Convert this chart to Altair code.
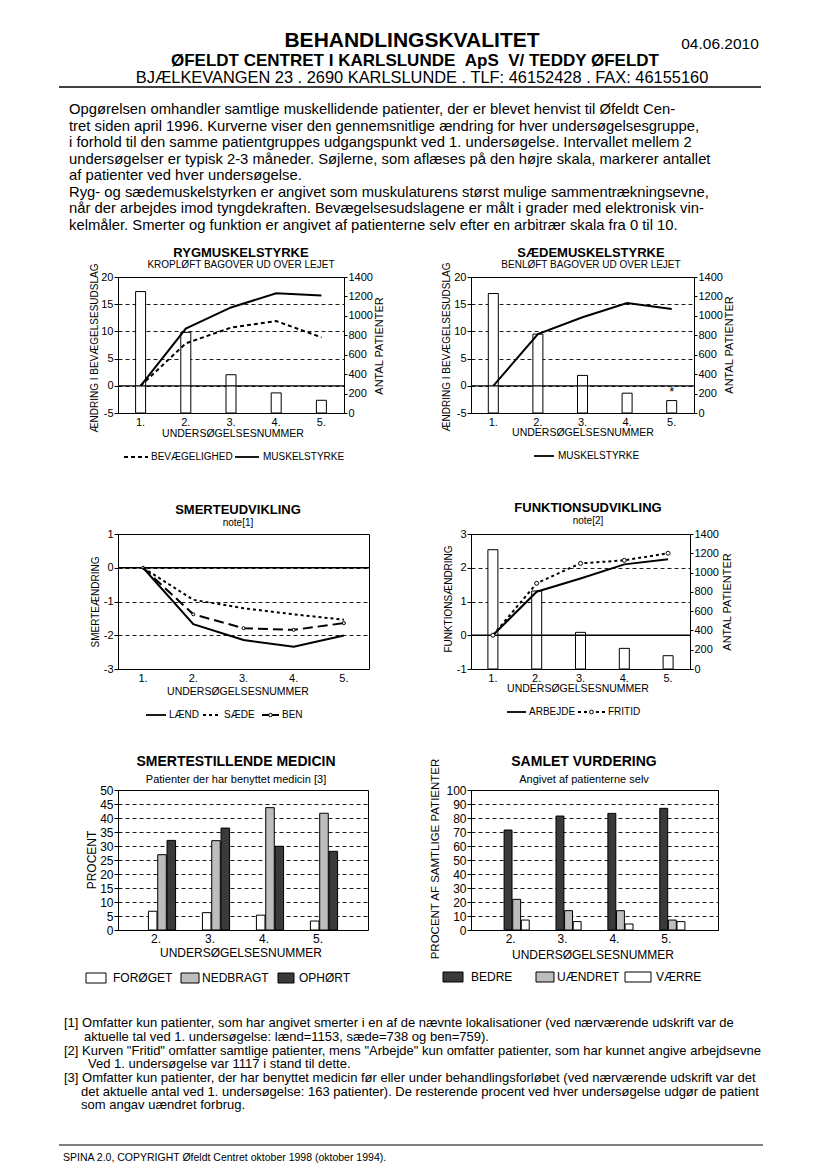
import altair as alt
import pandas as pd

FONT = "Liberation Sans, Arial, Helvetica, sans-serif"

# ---------------- data ----------------
exam = ["1.", "2.", "3.", "4.", "5."]
ryg_patients = [1250, 830, 394, 207, 131]
ryg_bevaegelighed = [0.0, 7.8, 10.7, 11.9, 8.9]
ryg_muskelstyrke = [0.0, 10.5, 14.4, 17.0, 16.6]

saede_patients = [1230, 812, 387, 204, 128]
saede_muskelstyrke = [0.0, 9.5, 12.6, 15.2, 14.1]

smerte_laend = [0.0, -1.67, -2.14, -2.34, -2.01]
smerte_saede = [0.0, -0.95, -1.20, -1.38, -1.54]
smerte_ben = [0.0, -1.38, -1.79, -1.84, -1.64]

funk_patients = [1237, 809, 380, 214, 138]
funk_arbejde = [0.0, 1.29, 1.68, 2.10, 2.25]
funk_fritid = [0.0, 1.54, 2.13, 2.22, 2.43]

follow_up = ["2.", "3.", "4.", "5."]
med_series = ["FORØGET", "NEDBRAGT", "OPHØRT"]
med_foroeget = [6.7, 6.2, 5.3, 3.2]
med_nedbragt = [26.9, 31.9, 43.7, 41.7]
med_ophoert = [32.0, 36.4, 29.9, 28.1]

vurd_series = ["BEDRE", "UÆNDRET", "VÆRRE"]
vurd_bedre = [71.4, 81.4, 83.3, 86.9]
vurd_uaendret = [21.9, 13.8, 13.8, 7.1]
vurd_vaerre = [7.1, 6.0, 4.3, 6.0]

header_title = "BEHANDLINGSKVALITET"
header_date = "04.06.2010"
header_line2 = "ØFELDT CENTRET I KARLSLUNDE\u00a0\u00a0ApS\u00a0\u00a0V/ TEDDY ØFELDT"
header_line3 = "BJÆLKEVANGEN 23 . 2690 KARLSLUNDE . TLF: 46152428 . FAX: 46155160"
paragraph = [
    "Opgørelsen omhandler samtlige muskellidende patienter, der er blevet henvist til Øfeldt Cen-",
    "tret siden april 1996. Kurverne viser den gennemsnitlige ændring for hver undersøgelsesgruppe,",
    "i forhold til den samme patientgruppes udgangspunkt ved 1. undersøgelse. Intervallet mellem 2",
    "undersøgelser er typisk 2-3 måneder. Søjlerne, som aflæses på den højre skala, markerer antallet",
    "af patienter ved hver undersøgelse.",
    "Ryg- og sædemuskelstyrken er angivet som muskulaturens størst mulige sammentrækningsevne,",
    "når der arbejdes imod tyngdekraften. Bevægelsesudslagene er målt i grader med elektronisk vin-",
    "kelmåler. Smerter og funktion er angivet af patienterne selv efter en arbitrær skala fra 0 til 10.",
]
footnotes = [
    "[1] Omfatter kun patienter, som har angivet smerter i en af de nævnte lokalisationer (ved nærværende udskrift var de",
    "aktuelle tal ved 1. undersøgelse: lænd=1153, sæde=738 og ben=759).",
    "[2] Kurven \"Fritid\" omfatter samtlige patienter, mens \"Arbejde\" kun omfatter patienter, som har kunnet angive arbejdsevne",
    "Ved 1. undersøgelse var 1117 i stand til dette.",
    "[3] Omfatter kun patienter, der har benyttet medicin før eller under behandlingsforløbet (ved nærværende udskrift var det",
    "det aktuelle antal ved 1. undersøgelse: 163 patienter). De resterende procent ved hver undersøgelse udgør de patient",
    "som angav uændret forbrug.",
]
footer = "SPINA 2.0, COPYRIGHT Øfeldt Centret oktober 1998 (oktober 1994)."

# ---------------- helpers ----------------
ONE = pd.DataFrame({"k": [0]})


def text(t, x, y, size=11, weight="normal", align="center", angle=None):
    kw = dict(text=t, font=FONT, fontSize=size, fontWeight=weight, align=align,
              baseline="middle", color="black")
    if angle is not None:
        kw["angle"] = angle
    return alt.Chart(ONE).mark_text(**kw).encode(x=alt.value(x), y=alt.value(y))


def rule(x1, x2, y, width=1.8, dash=None):
    kw = dict(color="black", strokeWidth=width)
    if dash:
        kw["strokeDash"] = dash
    return alt.Chart(ONE).mark_rule(**kw).encode(x=alt.value(x1), x2=alt.value(x2), y=alt.value(y))


def box(x1, x2, y1, y2, fill):
    return alt.Chart(ONE).mark_rect(fill=fill, stroke="black", strokeWidth=1).encode(
        x=alt.value(x1), x2=alt.value(x2), y=alt.value(y1), y2=alt.value(y2))


def dot(x, y, size=16):
    return alt.Chart(ONE).mark_point(shape="circle", filled=True, fill="white", stroke="black",
                                     strokeWidth=1, size=size, opacity=1).encode(
        x=alt.value(x), y=alt.value(y))


class Panel:
    """my = plot origin in page px; ref = plot box in reference page px"""

    def __init__(self, mx, my, w, h, rx, ry, rw):
        self.mx, self.my, self.w, self.h = mx, my, w, h
        self.rx, self.ry, self.rw = rx, ry, rw

    def X(self, px):
        return px - self.mx

    def Y(self, py):
        return py - self.ry

    def L(self, px):
        return px - self.rx

    def R(self, px):
        return self.w + (px - (self.rx + self.rw))

    def AX(self, px):
        return px - self.mx

    def AY(self, py):
        return py - self.my


def enc_x(field, domain, pi=0.0, po=0.0, label_offset=0, size=11):
    return alt.X(f"{field}:N", sort=domain,
                 scale=alt.Scale(type="band", domain=domain, paddingInner=pi, paddingOuter=po),
                 axis=alt.Axis(title=None, ticks=False, domain=False, labelAngle=0, labelPadding=3,
                               labelFontSize=size, labelOffset=label_offset, grid=False))


def enc_left(field, domain, values, size=11):
    return alt.Y(f"{field}:Q", scale=alt.Scale(domain=domain, nice=False, zero=False),
                 axis=alt.Axis(title=None, orient="left", values=values, grid=True, gridDash=[4, 3],
                               gridColor="black", gridWidth=0.9, gridOpacity=1, tickSize=4,
                               tickWidth=1, labelPadding=1, domain=False, labelFontSize=size,
                               labelExpr="'' + datum.value"))


def enc_right(field):
    return alt.Y(f"{field}:Q", scale=alt.Scale(domain=[0, 1400], nice=False),
                 axis=alt.Axis(title=None, orient="right", values=list(range(0, 1401, 200)),
                               grid=False, tickSize=3, tickWidth=1, labelPadding=1, domain=False,
                               labelFontSize=11, format="d"))


def line(df, x, y, dash=None, width=2.0):
    kw = dict(color="black", strokeWidth=width)
    if dash:
        kw["strokeDash"] = dash
    return alt.Chart(df).mark_line(**kw).encode(x=x, y=y)


def zero(y):
    return alt.Chart(pd.DataFrame({"v": [0]})).mark_rule(color="black", strokeWidth=1.3).encode(y=y)


# ---------------- panel 1: RYGMUSKELSTYRKE (with page header) ----------------
p = Panel(117, 276, 226, 136, 122, 278, 221)
X5 = enc_x("exam", exam)
Yl = enc_left("v", [-5, 20], [-5, 0, 5, 10, 15, 20])
Yr = enc_right("n")
bars = alt.Chart(pd.DataFrame({"exam": exam, "n": ryg_patients})).mark_bar(
    width=10, fill="white", stroke="black", strokeWidth=1).encode(x=X5, y=Yr)
lines = alt.layer(
    zero(Yl),
    line(pd.DataFrame({"exam": exam, "v": ryg_bevaegelighed}), X5, Yl, dash=[4, 3]),
    line(pd.DataFrame({"exam": exam, "v": ryg_muskelstyrke}), X5, Yl),
)
deco = [
    text("RYGMUSKELSTYRKE", p.X(240), p.Y(254), 13, "bold"),
    text("KROPLØFT BAGOVER UD OVER LEJET", p.X(240), p.Y(266), 10),
    text("ÆNDRING I BEVÆGELSESUDSLAG", p.L(99), p.Y(349), 10, angle=270),
    text("ANTAL PATIENTER", p.R(379), p.Y(347), 11, angle=270),
    text("UNDERSØGELSESNUMMER", p.X(232), p.Y(435), 10.5),
    rule(p.X(123), p.X(147), p.Y(458), dash=[4, 3]),
    text("BEVÆGELIGHED", p.X(150), p.Y(458), 10, align="left"),
    rule(p.X(234), p.X(258), p.Y(458)),
    text("MUSKELSTYRKE", p.X(262), p.Y(458), 10, align="left"),
    # page header
    alt.Chart(ONE).mark_rect(fill="white").encode(
        x=alt.value(p.AX(8)), x2=alt.value(p.AX(10)), y=alt.value(p.AY(8)), y2=alt.value(p.AY(10))),
    text(header_title, p.AX(411), p.AY(40), 21, "bold"),
    text(header_date, p.AX(719), p.AY(43), 15.5),
    text(header_line2, p.AX(414), p.AY(60), 17, "bold"),
    text(header_line3, p.AX(421), p.AY(77), 16.4),
    rule(p.AX(58), p.AX(760), p.AY(86), width=1.3),
]
for i, ln in enumerate(paragraph):
    deco.append(text(ln, p.AX(68), p.AY(109 + 16.5 * i), 14.8, align="left"))
c1 = alt.layer(bars, lines, *deco).resolve_scale(y="independent").properties(width=p.w, height=p.h)

# ---------------- panel 2: SÆDEMUSKELSTYRKE ----------------
p = Panel(470, 276, 223, 136, 473, 279, 220)
sdf = pd.DataFrame({"exam": exam, "n": saede_patients})
bars = alt.layer(
    alt.Chart(sdf).mark_bar(width=10, fill="white", stroke="black", strokeWidth=1).encode(x=X5, y=Yr),
    alt.Chart(sdf.iloc[[4]]).mark_text(text="*", font=FONT, fontSize=13, dy=-9, color="black").encode(x=X5, y=Yr),
)
lines = alt.layer(
    zero(Yl),
    line(pd.DataFrame({"exam": exam, "v": saede_muskelstyrke}), X5, Yl),
)
deco = [
    text("SÆDEMUSKELSTYRKE", p.X(590), p.Y(255), 13, "bold"),
    text("BENLØFT BAGOVER UD OVER LEJET", p.X(590), p.Y(267), 10),
    text("ÆNDRING I BEVÆGELSESUDSLAG", p.L(449), p.Y(349), 10, angle=270),
    text("ANTAL PATIENTER", p.R(729), p.Y(347), 11, angle=270),
    text("UNDERSØGELSESNUMMER", p.X(582), p.Y(435), 10.5),
    rule(p.X(533), p.X(553), p.Y(458)),
    text("MUSKELSTYRKE", p.X(557), p.Y(458), 10, align="left"),
]
c2 = alt.layer(bars, lines, *deco).resolve_scale(y="independent").properties(width=p.w, height=p.h)

# ---------------- panel 3: SMERTEUDVIKLING ----------------
p = Panel(117, 533, 251, 135, 117, 529, 251)
Ys = enc_left("v", [-3, 1], [-3, -2, -1, 0, 1])
ben_df = pd.DataFrame({"exam": exam, "v": smerte_ben})
deco = [
    text("SMERTEUDVIKLING", p.X(237), p.Y(505), 13, "bold"),
    text("note[1]", p.X(237), p.Y(518), 10),
    text("SMERTEÆNDRING", p.L(95), p.Y(597), 10, angle=270),
    text("UNDERSØGELSESNUMMER", p.X(237), p.Y(687), 10.5),
    rule(p.X(145), p.X(165), p.Y(710)),
    text("LÆND", p.X(168), p.Y(710), 10, align="left"),
    rule(p.X(202), p.X(220), p.Y(710), dash=[3, 3]),
    text("SÆDE", p.X(223), p.Y(710), 10, align="left"),
    rule(p.X(261), p.X(278), p.Y(710), dash=[7, 3]),
    dot(p.X(269.5), p.Y(710), 12),
    text("BEN", p.X(281), p.Y(710), 10, align="left"),
]
c3 = alt.layer(
    zero(Ys),
    line(pd.DataFrame({"exam": exam, "v": smerte_saede}), X5, Ys, dash=[3, 3]),
    line(ben_df, X5, Ys, dash=[10, 5]),
    alt.Chart(ben_df).mark_point(shape="circle", filled=True, fill="white", stroke="black",
                                 strokeWidth=1, size=9, opacity=1).encode(x=X5, y=Ys),
    line(pd.DataFrame({"exam": exam, "v": smerte_laend}), X5, Ys),
    *deco,
).properties(width=p.w, height=p.h)

# ---------------- panel 4: FUNKTIONSUDVIKLING ----------------
p = Panel(470, 533, 219, 135, 467, 532, 222)
Yf = enc_left("v", [-1, 3], [-1, 0, 1, 2, 3])
bars = alt.Chart(pd.DataFrame({"exam": exam, "n": funk_patients})).mark_bar(
    width=10, fill="white", stroke="black", strokeWidth=1).encode(x=X5, y=Yr)
fri_df = pd.DataFrame({"exam": exam, "v": funk_fritid})
lines = alt.layer(
    zero(Yf),
    line(pd.DataFrame({"exam": exam, "v": funk_arbejde}), X5, Yf),
    line(fri_df, X5, Yf, dash=[3, 3]),
    alt.Chart(fri_df).mark_point(shape="circle", filled=True, fill="white", stroke="black",
                                 strokeWidth=1, size=16, opacity=1).encode(x=X5, y=Yf),
)
deco = [
    text("FUNKTIONSUDVIKLING", p.X(587), p.Y(506), 13, "bold"),
    text("note[2]", p.X(587), p.Y(519), 10),
    text("FUNKTIONSÆNDRING", p.L(445), p.Y(597), 10, angle=270),
    text("ANTAL PATIENTER", p.R(727), p.Y(600), 11, angle=270),
    text("UNDERSØGELSESNUMMER", p.X(577), p.Y(687), 10.5),
    rule(p.X(506), p.X(525), p.Y(710)),
    text("ARBEJDE", p.X(528), p.Y(710), 10, align="left"),
    rule(p.X(577), p.X(604), p.Y(710), dash=[3, 3]),
    dot(p.X(590.5), p.Y(710), 14),
    text("FRITID", p.X(607), p.Y(710), 10, align="left"),
]
c4 = alt.layer(bars, lines, *deco).resolve_scale(y="independent").properties(width=p.w, height=p.h)

# ---------------- panel 5: SMERTESTILLENDE MEDICIN (with footnotes) ----------------
p = Panel(117, 789, 250, 140, 112, 792, 255)
med_df = pd.DataFrame({
    "grp": follow_up * 3,
    "serie": [s for s in med_series for _ in follow_up],
    "pct": med_foroeget + med_nedbragt + med_ophoert,
})
bars = alt.Chart(med_df).mark_bar(stroke="black", strokeWidth=1).encode(
    x=enc_x("grp", follow_up, pi=0.497, po=0.5635, label_offset=-6, size=12),
    xOffset=alt.XOffset("serie:N", sort=med_series, scale=alt.Scale(domain=med_series, paddingInner=0.08)),
    y=enc_left("pct", [0, 50], list(range(0, 51, 5)), size=12),
    fill=alt.Fill("serie:N", scale=alt.Scale(domain=med_series, range=["white", "#bdbdbd", "#3a3a3a"]),
                  legend=None),
)
deco = [
    text("SMERTESTILLENDE MEDICIN", p.X(235), p.Y(764), 14, "bold"),
    text("Patienter der har benyttet medicin [3]", p.X(235), p.Y(782), 11),
    text("PROCENT", p.L(86), p.Y(862), 12, angle=270),
    text("UNDERSØGELSESNUMMER", p.X(240), p.Y(955), 12),
    box(p.X(85), p.X(105), p.Y(975), p.Y(985), "white"),
    text("FORØGET", p.X(112), p.Y(980), 12, align="left"),
    box(p.X(180), p.X(198), p.Y(975), p.Y(985), "#bdbdbd"),
    text("NEDBRAGT", p.X(201), p.Y(980), 12, align="left"),
    box(p.X(277), p.X(293), p.Y(975), p.Y(985), "#3a3a3a"),
    text("OPHØRT", p.X(298), p.Y(980), 12, align="left"),
    rule(p.AX(58), p.AX(762), p.AY(1144), width=1.2),
    text(footer, p.AX(62), p.AY(1157), 10.5, align="left"),
]
foot_x = [63, 83, 63, 87, 63, 80, 80]
foot_y = [1022, 1035.5, 1049.5, 1063, 1077, 1090.5, 1104]
for ln, fx, fy in zip(footnotes, foot_x, foot_y):
    deco.append(text(ln, p.AX(fx), p.AY(fy), 13, align="left"))
c5 = alt.layer(bars, *deco).properties(width=p.w, height=p.h)

# ---------------- panel 6: SAMLET VURDERING ----------------
p = Panel(470, 789, 247, 140, 470, 793, 247)
vurd_df = pd.DataFrame({
    "grp": follow_up * 3,
    "serie": [s for s in vurd_series for _ in follow_up],
    "pct": vurd_bedre + vurd_uaendret + vurd_vaerre,
})
bars = alt.Chart(vurd_df).mark_bar(stroke="black", strokeWidth=1).encode(
    x=enc_x("grp", follow_up, pi=0.516, po=0.638, label_offset=-6, size=12),
    xOffset=alt.XOffset("serie:N", sort=vurd_series, scale=alt.Scale(domain=vurd_series, paddingInner=0.08)),
    y=enc_left("pct", [0, 100], list(range(0, 101, 10)), size=12),
    fill=alt.Fill("serie:N", scale=alt.Scale(domain=vurd_series, range=["#3a3a3a", "#bdbdbd", "white"]),
                  legend=None),
)
deco = [
    text("SAMLET VURDERING", p.X(583), p.Y(765), 14, "bold"),
    text("Angivet af patienterne selv", p.X(583), p.Y(783), 11),
    text("PROCENT AF SAMTLIGE PATIENTER", p.L(435), p.Y(862), 11.5, angle=270),
    text("UNDERSØGELSESNUMMER", p.X(592), p.Y(958), 12),
    box(p.X(442), p.X(462), p.Y(975), p.Y(985), "#3a3a3a"),
    text("BEDRE", p.X(470), p.Y(980), 12, align="left"),
    box(p.X(535), p.X(553), p.Y(975), p.Y(985), "#bdbdbd"),
    text("UÆNDRET", p.X(556), p.Y(980), 12, align="left"),
    box(p.X(624), p.X(650), p.Y(975), p.Y(985), "white"),
    text("VÆRRE", p.X(655), p.Y(980), 12, align="left"),
]
c6 = alt.layer(bars, *deco).properties(width=p.w, height=p.h)

chart = alt.concat(
    c1, c2, c3, c4, c5, c6,
    columns=2, bounds="flush", align="each",
    spacing={"row": 121, "column": 102},
).resolve_scale(
    fill="independent", xOffset="independent"
).properties(padding=0, background="white").configure_view(
    stroke="black", strokeWidth=1
).configure_axis(
    labelFont=FONT, labelColor="black", tickColor="black"
)

chart.save("out.html", embed_options={"renderer": "svg", "actions": False})
